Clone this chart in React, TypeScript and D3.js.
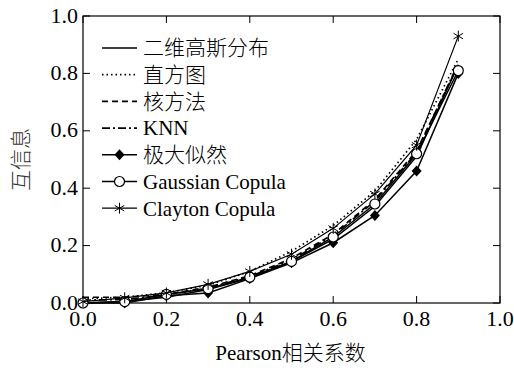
import React, { useEffect, useRef } from 'react';
import * as d3 from 'd3';

// Pearson correlation values on the x axis
const rho = [0, 0.1, 0.2, 0.3, 0.4, 0.5, 0.6, 0.7, 0.8, 0.9];

// mutual information estimates
const gauss2d = [0.0, 0.005, 0.02, 0.047, 0.087, 0.144, 0.223, 0.337, 0.511, 0.83];
const histogram = [0.015, 0.02, 0.036, 0.062, 0.11, 0.18, 0.27, 0.39, 0.57, 0.85];
const kernel = [0.02, 0.02, 0.03, 0.055, 0.095, 0.155, 0.24, 0.36, 0.53, 0.83];
const knn = [0.01, 0.012, 0.028, 0.052, 0.092, 0.15, 0.235, 0.355, 0.525, 0.835];
const maxLik = [0.0, 0.0, 0.025, 0.035, 0.085, 0.14, 0.21, 0.305, 0.46, 0.8];
const gaussCopula = [0.0, 0.005, 0.03, 0.05, 0.09, 0.145, 0.23, 0.345, 0.52, 0.81];
const claytonCopula = [0.005, 0.018, 0.035, 0.065, 0.11, 0.17, 0.26, 0.38, 0.55, 0.93];

const seriesNames = ['二维高斯分布', '直方图', '核方法', 'KNN', '极大似然', 'Gaussian Copula', 'Clayton Copula'];
const xTicks = [0, 0.2, 0.4, 0.6, 0.8, 1.0];
const yTicks = [0, 0.2, 0.4, 0.6, 0.8, 1.0];

const serif = '"Liberation Serif", "Times New Roman", serif';
const cjk = '"Liberation Serif", "Noto Sans CJK SC", serif';

const App = () => {
  const ref = useRef<SVGSVGElement>(null);

  useEffect(() => {
    const svg = d3.select(ref.current);
    svg.selectAll('*').remove();

    const left = 83, right = 500, top = 16, bottom = 303;
    const x = d3.scaleLinear().domain([0, 1]).range([left, right]);
    const y = d3.scaleLinear().domain([0, 1]).range([bottom, top]);

    const series = [
      { name: seriesNames[0], values: gauss2d, dash: null, marker: 'none', w: 1.5 },
      { name: seriesNames[1], values: histogram, dash: '1.5,3', marker: 'none', w: 1.7 },
      { name: seriesNames[2], values: kernel, dash: '6,4', marker: 'none', w: 1.7 },
      { name: seriesNames[3], values: knn, dash: '8,3,2,3', marker: 'none', w: 1.7 },
      { name: seriesNames[4], values: maxLik, dash: null, marker: 'diamond', w: 1.5 },
      { name: seriesNames[5], values: gaussCopula, dash: null, marker: 'circle', w: 1.5 },
      { name: seriesNames[6], values: claytonCopula, dash: null, marker: 'star', w: 1.2 },
    ];

    // frame
    svg.append('rect')
      .attr('x', left).attr('y', top)
      .attr('width', right - left).attr('height', bottom - top)
      .attr('fill', 'none').attr('stroke', '#000').attr('stroke-width', 1.2);

    const tl = 7;
    const g = svg.append('g');
    xTicks.forEach(t => {
      g.append('line').attr('x1', x(t)).attr('x2', x(t)).attr('y1', bottom).attr('y2', bottom - tl).attr('stroke', '#000');
      g.append('line').attr('x1', x(t)).attr('x2', x(t)).attr('y1', top).attr('y2', top + tl).attr('stroke', '#000');
      g.append('text').attr('x', x(t)).attr('y', bottom + 23)
        .attr('text-anchor', 'middle').style('font-family', serif).style('font-size', '22px')
        .text(t.toFixed(1));
    });
    yTicks.forEach(t => {
      g.append('line').attr('x1', left).attr('x2', left + tl).attr('y1', y(t)).attr('y2', y(t)).attr('stroke', '#000');
      g.append('line').attr('x1', right).attr('x2', right - tl).attr('y1', y(t)).attr('y2', y(t)).attr('stroke', '#000');
      g.append('text').attr('x', left - 5).attr('y', y(t)).attr('dy', '0.3em')
        .attr('text-anchor', 'end').style('font-family', serif).style('font-size', '22px')
        .text(t.toFixed(1));
    });

    const line = d3.line<number>().x((d, i) => x(rho[i])).y(d => y(d));

    const drawMarker = (sel: any, kind: string, cx: number, cy: number) => {
      if (kind === 'diamond') {
        sel.append('path')
          .attr('d', `M${cx},${cy - 5.5}L${cx + 5},${cy}L${cx},${cy + 5.5}L${cx - 5},${cy}Z`)
          .attr('fill', '#000');
      } else if (kind === 'circle') {
        sel.append('circle').attr('cx', cx).attr('cy', cy).attr('r', 5)
          .attr('fill', '#fff').attr('stroke', '#000').attr('stroke-width', 1.2);
      } else if (kind === 'star') {
        const r = 5.5;
        for (let k = 0; k < 3; k++) {
          const a = (Math.PI / 3) * k + Math.PI / 2;
          sel.append('line')
            .attr('x1', cx + r * Math.cos(a)).attr('y1', cy + r * Math.sin(a))
            .attr('x2', cx - r * Math.cos(a)).attr('y2', cy - r * Math.sin(a))
            .attr('stroke', '#000').attr('stroke-width', 1);
        }
      }
    };

    const plot = svg.append('g');
    series.forEach(s => {
      plot.append('path')
        .datum(s.values)
        .attr('d', line)
        .attr('fill', 'none')
        .attr('stroke', '#000')
        .attr('stroke-width', s.w)
        .attr('stroke-dasharray', s.dash);
      s.values.forEach((v, i) => drawMarker(plot, s.marker, x(rho[i]), y(v)));
    });

    // legend
    const lg = svg.append('g');
    series.forEach((s, i) => {
      const ly = 48 + i * 26.7;
      lg.append('line').attr('x1', 102).attr('x2', 137).attr('y1', ly).attr('y2', ly)
        .attr('stroke', '#000').attr('stroke-width', s.w).attr('stroke-dasharray', s.dash);
      drawMarker(lg, s.marker, 119.5, ly);
      lg.append('text').attr('x', 143).attr('y', ly).attr('dy', '0.35em')
        .style('font-family', cjk).style('font-size', '21px').style('font-weight', 300)
        .text(s.name);
    });

    // axis titles
    svg.append('text').attr('x', (left + right) / 2 - 1).attr('y', 360)
      .attr('text-anchor', 'middle').style('font-family', cjk).style('font-size', '21px')
      .style('font-weight', 300)
      .text('Pearson相关系数');
    svg.append('text')
      .attr('transform', `translate(28, ${(top + bottom) / 2}) rotate(-90)`)
      .attr('text-anchor', 'middle').style('font-family', cjk).style('font-size', '21px')
      .style('font-weight', 300).style('fill', '#333')
      .text('互信息');
  }, []);

  return (
    <svg ref={ref} width={514} height={368}
      style={{ position: 'absolute', left: 0, top: 0, background: '#fff' }} />
  );
};

export default App;
